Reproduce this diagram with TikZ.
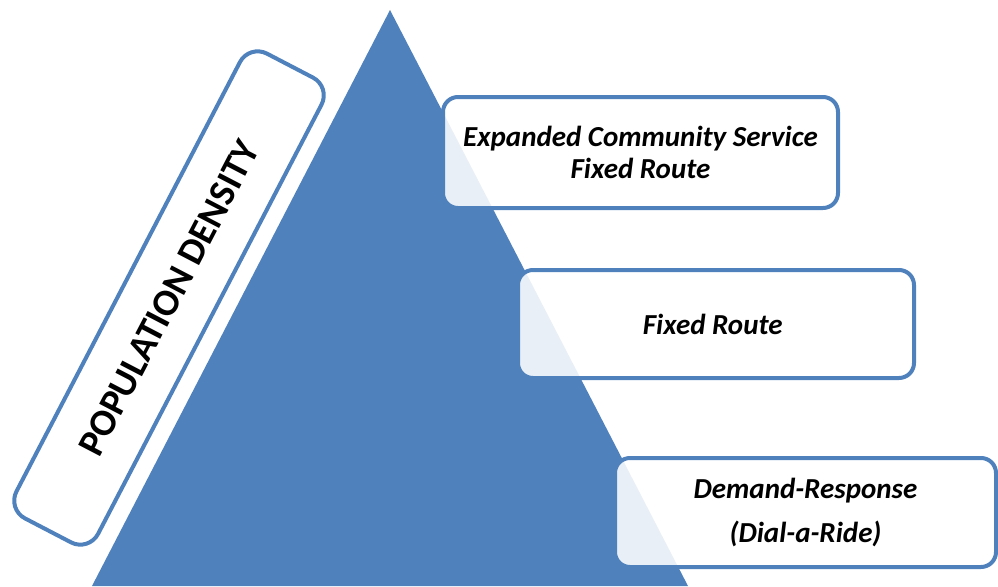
\documentclass[tikz,border=0pt]{standalone}
\usepackage{fontspec}
\setmainfont{Carlito}
\usetikzlibrary{positioning}
\usepackage{xcolor}
\definecolor{blue}{RGB}{79, 129, 189}

\tikzset{
    level/.style={
        rectangle,
        draw=blue,
        line width=4pt,
        rounded corners=15pt,
        fill=white,
        fill opacity=0.88,
        text opacity=1,
        align=center,
        font=\fontsize{29}{32}\selectfont\bfseries\itshape
    }
}

\begin{document}
\begin{tikzpicture}[x=1pt, y=-1pt, auto]
        \useasboundingbox (0,0) rectangle (998,586);

        % pyramid
        \fill[blue] (390,10) -- (92,586) -- (688,586) -- cycle;

        \node (0) [
            rectangle,
            draw=blue,
            line width=4pt,
            rounded corners=20pt,
            fill=white,
            minimum width=524pt,
            minimum height=92pt,
            rotate=62.5,
            font=\fontsize{38}{40}\selectfont\bfseries
        ] at (169,298)
        {
            POPULATION DENSITY
        };

        \node (1) [
            level,
            minimum width=395pt,
            minimum height=111pt
        ] at (640.5,152.5)
        {
            Expanded Community Service\\
            Fixed Route
        };

        \node (2) [
            level,
            minimum width=396pt,
            minimum height=108pt
        ] at (716,324)
        {
            Fixed Route
        };

        \node (3) [
            level,
            minimum width=381pt,
            minimum height=109pt
        ] at (805.5,512.5)
        {
            Demand-Response\\[12pt]
            (Dial-a-Ride)
        };
    \end{tikzpicture}
\end{document}
